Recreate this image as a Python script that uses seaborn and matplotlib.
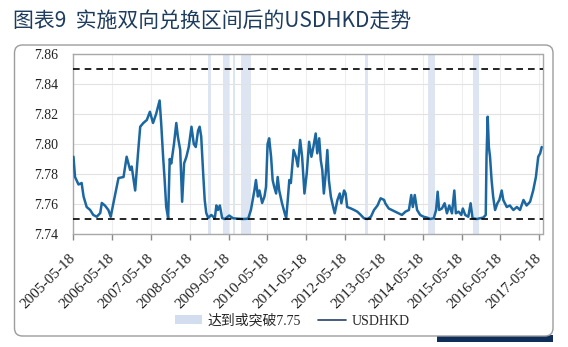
import numpy as np
import pandas as pd
import matplotlib
matplotlib.use("Agg")
import matplotlib.pyplot as plt
import seaborn as sns
from matplotlib.patches import FancyBboxPatch, Patch, Rectangle
from matplotlib.lines import Line2D

# ---------------- data ----------------
# time in decimal years
t_years = [
    2005.38, 2005.42, 2005.51, 2005.59, 2005.64, 2005.72, 2005.81, 2005.89, 2005.98, 2006.07,
    2006.11, 2006.19, 2006.28, 2006.34, 2006.41, 2006.54, 2006.67, 2006.75, 2006.84, 2006.88,
    2006.97, 2007.05, 2007.10, 2007.18, 2007.27, 2007.35, 2007.43, 2007.51, 2007.60, 2007.64,
    2007.69, 2007.73, 2007.77, 2007.82, 2007.86, 2007.90, 2007.97, 2008.03, 2008.07, 2008.13,
    2008.18, 2008.23, 2008.29, 2008.35, 2008.42, 2008.48, 2008.53, 2008.59, 2008.63, 2008.67,
    2008.72, 2008.76, 2008.80, 2008.85, 2008.93, 2009.02, 2009.06, 2009.10, 2009.15, 2009.21,
    2009.28, 2009.39, 2009.49, 2009.62, 2009.75, 2009.88, 2009.95, 2010.04, 2010.08, 2010.13,
    2010.17, 2010.24, 2010.30, 2010.34, 2010.38, 2010.42, 2010.47, 2010.51, 2010.55, 2010.60,
    2010.64, 2010.68, 2010.75, 2010.81, 2010.86, 2010.90, 2010.94, 2010.98, 2011.05, 2011.11,
    2011.16, 2011.22, 2011.27, 2011.33, 2011.39, 2011.45, 2011.51, 2011.56, 2011.62, 2011.66,
    2011.71, 2011.75, 2011.79, 2011.83, 2011.88, 2011.92, 2011.96, 2012.01, 2012.07, 2012.11,
    2012.18, 2012.24, 2012.28, 2012.35, 2012.39, 2012.43, 2012.52, 2012.61, 2012.69, 2012.78,
    2012.86, 2012.95, 2013.04, 2013.12, 2013.21, 2013.29, 2013.38, 2013.41, 2013.50, 2013.58,
    2013.67, 2013.76, 2013.84, 2013.93, 2014.02, 2014.08, 2014.12, 2014.17, 2014.23, 2014.31,
    2014.40, 2014.49, 2014.57, 2014.66, 2014.72, 2014.76, 2014.80, 2014.87, 2014.94, 2015.00,
    2015.06, 2015.13, 2015.19, 2015.23, 2015.30, 2015.37, 2015.41, 2015.47, 2015.55, 2015.61,
    2015.66, 2015.77, 2015.85, 2015.94, 2016.00, 2016.02, 2016.05, 2016.08, 2016.11, 2016.15,
    2016.19, 2016.24, 2016.30, 2016.35, 2016.41, 2016.45, 2016.54, 2016.62, 2016.71, 2016.80,
    2016.88, 2016.97, 2017.05, 2017.14, 2017.22, 2017.29, 2017.35, 2017.40, 2017.44,
]
usdhkd = [
    7.7915, 7.7780, 7.7730, 7.7740, 7.7650, 7.7580, 7.7560, 7.7527, 7.7515, 7.7540,
    7.7607, 7.7590, 7.7560, 7.7515, 7.7607, 7.7773, 7.7780, 7.7915, 7.7827, 7.7850,
    7.7690, 7.7960, 7.8115, 7.8140, 7.8160, 7.8215, 7.8140, 7.8200, 7.8290, 7.8140,
    7.7915, 7.7760, 7.7580, 7.7507, 7.7900, 7.7870, 7.8000, 7.8140, 7.8050, 7.7960,
    7.7615, 7.7870, 7.7915, 7.7980, 7.8115, 7.8000, 7.7980, 7.8090, 7.8115, 7.8050,
    7.7807, 7.7627, 7.7540, 7.7507, 7.7527, 7.7505, 7.7590, 7.7560, 7.7590, 7.7505,
    7.7500, 7.7523, 7.7505, 7.7502, 7.7500, 7.7502, 7.7560, 7.7690, 7.7760, 7.7650,
    7.7690, 7.7607, 7.7650, 7.7715, 7.8000, 7.8038, 7.7915, 7.7760, 7.7715, 7.7670,
    7.7780, 7.7690, 7.7607, 7.7549, 7.7505, 7.7627, 7.7760, 7.7740, 7.7960, 7.7915,
    7.7850, 7.8027, 7.7915, 7.7670, 7.7807, 7.8015, 7.7915, 7.7980, 7.8070, 7.7938,
    7.8038, 7.7893, 7.7827, 7.7670, 7.7807, 7.7960, 7.7760, 7.7650, 7.7580, 7.7538,
    7.7627, 7.7670, 7.7605, 7.7690, 7.7670, 7.7580, 7.7571, 7.7560, 7.7549, 7.7527,
    7.7505, 7.7500, 7.7515, 7.7560, 7.7590, 7.7638, 7.7627, 7.7605, 7.7570, 7.7560,
    7.7549, 7.7538, 7.7527, 7.7549, 7.7560, 7.7660, 7.7580, 7.7660, 7.7560, 7.7527,
    7.7515, 7.7509, 7.7500, 7.7505, 7.7560, 7.7682, 7.7560, 7.7570, 7.7605, 7.7538,
    7.7590, 7.7538, 7.7690, 7.7538, 7.7549, 7.7527, 7.7570, 7.7527, 7.7515, 7.7605,
    7.7505, 7.7500, 7.7505, 7.7510, 7.7527, 7.7915, 7.8182, 7.7980, 7.7915, 7.7760,
    7.7650, 7.7560, 7.7605, 7.7627, 7.7690, 7.7627, 7.7580, 7.7590, 7.7560, 7.7580,
    7.7560, 7.7627, 7.7590, 7.7615, 7.7690, 7.7780, 7.7915, 7.7938, 7.7980,
]
# periods when the rate reached / broke 7.75 (decimal years)
band_start = [2008.85, 2009.22, 2009.48, 2009.69, 2012.89, 2014.52, 2015.66]
band_end = [2008.92, 2009.38, 2009.55, 2009.95, 2012.97, 2014.70, 2015.82]
tick_years = list(range(2005, 2018))
tick_labels = [f"{y}-05-18" for y in tick_years]
y_ticks = [7.74, 7.76, 7.78, 7.80, 7.82, 7.84, 7.86]
strong_side, weak_side = 7.75, 7.85

title = "图表9  实施双向兑换区间后的USDHKD走势"
legend_band = "达到或突破7.75"
legend_line = "USDHKD"


def dec_to_ts(y):
    year = int(y)
    start = pd.Timestamp(year, 1, 1)
    end = pd.Timestamp(year + 1, 1, 1)
    return start + (end - start) * (y - year)


df = pd.DataFrame({"date": [dec_to_ts(v) for v in t_years], "USDHKD": usdhkd})

# ---------------- figure ----------------
sns.set_theme(style="white")
plt.rcParams["font.family"] = ["Liberation Serif", "Noto Sans CJK SC"]

W, H = 568, 347
fig = plt.figure(figsize=(W / 100, H / 100), dpi=100)
fig.patch.set_facecolor("white")

# dark bar under the frame
fig.patches.append(Rectangle((437 / W, 1 - 342 / H), (553 - 437) / W, 7 / H,
                             transform=fig.transFigure, fc="#0f2f5a", ec="none", zorder=0))
# rounded frame
fig.patches.append(FancyBboxPatch((14.5 / W, 1 - 336 / H), (553 - 14.5) / W, (336 - 45) / H,
                                  boxstyle="round,pad=0,rounding_size=0.014",
                                  mutation_aspect=W / H,
                                  transform=fig.transFigure, fc="white", ec="#9c9c9c",
                                  lw=1.0, zorder=1))

fig.text(13 / W, 1 - 22 / H, title, fontsize=15, color="#1d3c5e",
         family=["Noto Sans CJK SC", "DejaVu Sans"], ha="left", va="center")

ax = fig.add_axes([73.3 / W, 1 - 234 / H, (542.5 - 73.3) / W, 180 / H])
ax.set_zorder(2)
ax.set_facecolor("white")

band_color = "#d2ddef"
for s, e in zip(band_start, band_end):
    ax.axvspan(dec_to_ts(s), dec_to_ts(e), color=band_color, alpha=0.75, lw=0, zorder=0.5)

line_color = "#1c67a0"
sns.lineplot(data=df, x="date", y="USDHKD", ax=ax, color=line_color, lw=1.8, zorder=3)

for lvl in (strong_side, weak_side):
    ax.axhline(lvl, color="black", ls=(0, (4, 3)), lw=1.2, zorder=4)

ax.set_ylim(7.74, 7.86)
ax.set_yticks(y_ticks)
ax.set_yticklabels([f"{v:.2f}" for v in y_ticks])
ax.set_xlim(dec_to_ts(2005.377), dec_to_ts(2017.46))
ax.set_xticks([pd.Timestamp(f"{y}-05-18") for y in tick_years])
ax.set_xticklabels(tick_labels)
ax.set_xlabel("")
ax.set_ylabel("")

ax.grid(True, axis="y", color="#e2e2e2", lw=0.8, zorder=0)
ax.grid(True, axis="x", color="#eeeeee", lw=0.8, zorder=0)
for sp in ax.spines.values():
    sp.set_color("#a8a8a8")
    sp.set_linewidth(1.0)
    sp.set_visible(True)

ax.tick_params(axis="x", length=4, width=1, color="#8a8a8a", direction="out",
               pad=12, labelsize=11, labelcolor="#222222", bottom=True)
ax.tick_params(axis="y", length=0, pad=11, labelsize=10, labelcolor="#222222")
for lbl in ax.get_xticklabels():
    lbl.set_rotation(45)
    lbl.set_ha("right")
    lbl.set_va("center")
    lbl.set_rotation_mode("anchor")

handles = [Patch(fc=band_color, ec="none", label=legend_band),
           Line2D([], [], color="#27406a", lw=1.2, label=legend_line)]
fig.legend(handles=handles, loc="center", bbox_to_anchor=(292 / W, 1 - 321 / H),
           ncol=2, frameon=False, fontsize=10, handlelength=2.0, handleheight=0.6,
           handletextpad=0.4, columnspacing=1.2)

fig.savefig("out.png", dpi=100)
